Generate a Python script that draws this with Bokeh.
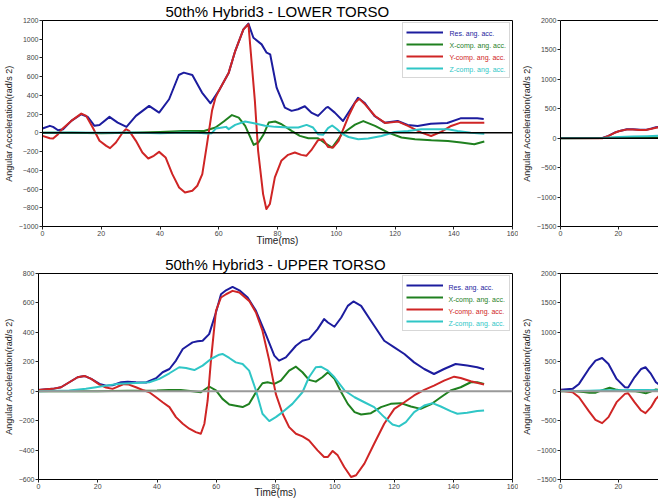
from bokeh.plotting import figure
from bokeh.models import Range1d, FixedTicker, Span, Legend, LegendItem, Label, LinearAxis
from bokeh.layouts import column, row
from bokeh.embed import file_html
from bokeh.resources import INLINE

# ---------------- data ----------------
SERIES_NAMES = ["Res. ang. acc.", "X-comp. ang. acc.", "Y-comp. ang. acc.", "Z-comp. ang. acc."]
X_TICKS = [0, 20, 40, 60, 80, 100, 120, 140, 160]
LT_Y_TICKS = [-1000, -800, -600, -400, -200, 0, 200, 400, 600, 800, 1000, 1200]
UT_Y_TICKS = [-600, -400, -200, 0, 200, 400, 600, 800]
R_Y_TICKS = [-1500, -1000, -500, 0, 500, 1000, 1500, 2000]
TITLE_LOWER = "50th% Hybrid3 - LOWER TORSO"
TITLE_UPPER = "50th% Hybrid3 - UPPER TORSO"
X_LABEL = "Time(ms)"
Y_LABEL = "Angular Acceleration(rad/s 2)"

# LOWER TORSO (left)
LT_res_t = [0, 2.5, 3.6, 5.3, 7.0, 9.8, 13.2, 15.4, 17.7, 19.4, 22.8, 25.6, 28.6, 31.8, 36.3, 39.7, 43.1, 46.4, 48.1, 51.0,
            54.3, 57.2, 60.0, 63.4, 65.6, 68.4, 70.1, 71.8, 74.6, 76.3, 77.5, 79.7, 82.5, 84.8, 87.0, 89.3, 91.5, 93.8, 96.6, 97.2,
            99.5, 102.3, 104.5, 107.4, 109.6, 113.0, 116.4, 120.9, 124.3, 127.7, 132.2, 137.8, 142.3, 148.0, 150.2]
LT_res_v = [46, 75, 64, 28, 39, 128, 199, 170, 75, 85, 171, 110, 64, 181, 288, 217, 359, 618, 643, 618,
            430, 316, 448, 643, 874, 1105, 1166, 1016, 945, 856, 839, 483, 270, 235, 252, 284, 217, 181, 270, 276,
            216, 127, 233, 375, 322, 180, 109, 127, 84, 74, 98, 105, 155, 155, 148]
LT_x_t = [0, 10, 20, 30, 40, 48, 55, 58.9, 61.7, 64.5, 66.8, 69.0, 71.9, 73.5, 75.3, 77.0, 79.2, 81.4, 84.8, 87.6,
          90.5, 93.8, 96.7, 98.6, 101.9, 104.2, 106.4, 109.2, 113.2, 117.7, 122.2, 126.8, 132.4, 138.0, 142.5, 147.0, 150.4]
LT_x_v = [0, 0, -5, 0, 10, 20, 20, 57, 121, 190, 163, 75, -128, -103, -14, 110, 121, 92, 21, -32,
          -57, -57, -121, -157, -15, 38, 88, 126, 74, 2, -50, -68, -79, -86, -104, -122, -93]
LT_y_t = [0, 2.5, 3.6, 5.3, 7.0, 9.8, 13.2, 14.9, 17.1, 19.4, 21.7, 23.0, 25.0, 27.3, 28.4, 29.5, 31.8, 34.0, 36.0, 37.9,
          39.7, 41.9, 44.2, 46.5, 48.5, 51.0, 52.7, 54.4, 56.0, 57.7, 58.9, 60.0, 63.4, 65.6, 68.4, 70.1, 72.3, 73.4, 75.1, 76.2,
          77.4, 79.1, 81.3, 83.6, 85.9, 88.1, 89.8, 91.5, 93.8, 95.5, 97.2, 98.9, 100.8, 101.9, 104.2, 106.4, 107.8, 109.8, 113.2, 116.6,
          121.1, 124.4, 129.0, 132.3, 135.7, 139.1, 142.4, 150.4]
LT_y_v = [-32, -57, -60, -14, 50, 128, 206, 181, 57, -85, -139, -163, -103, 4, 39, 21, -85, -210, -274, -245,
          -203, -263, -441, -583, -636, -618, -565, -441, -121, 235, 377, 448, 643, 874, 1105, 1160, 341, -192, -654, -814,
          -760, -476, -298, -235, -210, -235, -245, -185, -78, -68, -150, -157, -86, 2, 180, 322, 365, 305, 180, 106,
          120, 74, 2, -33, 10, 74, 109, 109]
LT_z_t = [0, 10, 20, 30, 40, 48, 53, 56, 57.5, 59.0, 61.2, 62.5, 63.4, 65.6, 69.0, 72.4, 75.8, 79.2, 83.7, 87.1,
          89.9, 92.1, 93.8, 95.5, 97.2, 98.6, 100.3, 101.9, 104.2, 107.5, 110.9, 115.4, 119.9, 124.4, 128.9, 133.4, 138.0, 141.3, 145.8, 150.4]
LT_z_v = [0, 3, 0, 3, -5, 5, 0, -8, -5, 46, 57, 64, 40, 85, 121, 100, 75, 64, 57, 57,
          85, 57, -14, -21, 50, 79, 38, -9, -44, -68, -61, -33, 9, 20, 38, 38, 38, 20, 2, -9]

# LOWER TORSO (right, partly visible)
LR_res_t = [0, 14.5, 16.6, 18.9, 20.5, 23.0, 25.0, 27.5, 29.5, 31.5, 33.0, 35.0]
LR_res_v = [5, 5, 40, 98, 124, 152, 152, 143, 142, 165, 185, 200]
LR_x_t = [0, 15, 20, 25, 30, 35]
LR_x_v = [0, 2, 8, 10, 12, 15]
LR_y_t = [0, 14.5, 16.6, 18.9, 20.5, 23.0, 25.0, 27.5, 29.5, 31.5, 33.0, 35.0]
LR_y_v = [0, 0, 39, 96, 122, 150, 150, 140, 139, 160, 178, 195]
LR_z_t = [0, 15, 20, 25, 30, 35]
LR_z_v = [0, 5, 20, 28, 35, 45]

# UPPER TORSO (left)
UT_res_t = [0, 2.6, 4.8, 7.6, 10.4, 13.2, 15.5, 17.8, 20.6, 22.8, 25.0, 27.9, 30.1, 32.9, 36.3, 39.7, 41.9, 44.2, 46.4, 48.7,
            50.3, 52.0, 53.7, 55.4, 57.6, 59.9, 61.6, 63.3, 65.5, 67.8, 70.6, 73.4, 76.7, 79.6, 81.2, 83.5, 86.9, 89.1, 91.3, 94.2,
            96.4, 97.7, 99.9, 102.2, 104.4, 106.3, 108.9, 112.2, 116.7, 120.1, 123.5, 126.8, 130.2, 133.5, 136.9, 140.8, 144.7, 148.1, 150.4]
UT_res_v = [9, 14, 16, 27, 61, 95, 104, 84, 50, 38, 41, 61, 65, 61, 59, 88, 129, 151, 208, 287,
            309, 332, 339, 343, 388, 535, 659, 686, 709, 686, 637, 546, 388, 242, 208, 230, 309, 343, 354, 422,
            490, 467, 438, 501, 580, 610, 580, 479, 343, 298, 253, 196, 151, 117, 151, 185, 174, 163, 149]
UT_x_t = [0, 10, 20, 30, 40, 44, 48, 52, 54.8, 57.6, 59.9, 62.1, 64.4, 66.6, 68.9, 71.1, 73.4, 75.6, 77.3, 79.6,
          81.8, 84.6, 86.9, 89.1, 91.3, 93.6, 95.8, 97.7, 99.9, 102.2, 104.4, 106.7, 108.9, 112.2, 115.6, 118.9, 122.3, 125.7, 129.0, 132.4,
          135.8, 139.1, 142.5, 145.9, 148.1, 150.4]
UT_x_v = [0, 0, 0, 3, 5, 9, 9, 0, -7, 32, 5, -52, -90, -99, -108, -86, -7, 54, 61, 50,
          72, 140, 167, 129, 77, 65, 95, 129, 84, -7, -86, -142, -158, -149, -108, -86, -81, -104, -120, -90,
          -41, 5, 27, 61, 61, 50]
UT_y_t = [0, 2.6, 4.8, 7.6, 10.4, 13.2, 15.5, 17.8, 20.6, 22.8, 25.0, 26.6, 28.8, 30.5, 32.9, 35.1, 37.4, 39.7, 41.9, 44.2,
          46.4, 48.7, 50.9, 53.1, 54.8, 56.0, 57.1, 58.2, 59.9, 61.6, 63.3, 65.5, 67.8, 71.1, 73.4, 75.6, 77.9, 80.1, 82.4, 84.6,
          86.9, 89.1, 91.3, 94.2, 96.4, 97.7, 99.3, 101.0, 103.2, 105.5, 107.2, 110.0, 113.3, 116.7, 120.1, 123.5, 126.8, 130.2, 133.5, 136.9,
          140.3, 142.5, 145.9, 150.4]
UT_y_v = [9, 14, 16, 27, 61, 95, 104, 84, 45, 25, 16, 30, 48, 45, 27, 9, -7, -41, -75, -108,
          -176, -221, -255, -278, -289, -221, -63, 208, 546, 637, 659, 682, 671, 614, 535, 411, 208, -18, -153, -244,
          -289, -307, -334, -402, -447, -447, -406, -436, -515, -583, -571, -492, -357, -221, -120, -75, -29, 9, 38, 72,
          99, 90, 68, 45]
UT_z_t = [0, 10.4, 16.0, 19.4, 22.8, 27.3, 32.9, 37.4, 40.8, 44.2, 47.5, 49.8, 52.6, 55.4, 58.2, 61.0, 62.1, 64.4, 66.6, 68.9,
          71.1, 73.4, 75.6, 77.9, 80.1, 82.4, 85.7, 89.1, 91.3, 93.6, 95.3, 97.7, 99.9, 103.3, 106.7, 110.0, 113.3, 116.7, 119.5, 121.7,
          124.0, 126.8, 130.2, 133.0, 135.8, 139.1, 141.4, 144.7, 148.1, 150.4]
UT_z_v = [0, 5, 16, 27, 38, 50, 56, 61, 84, 122, 163, 158, 144, 174, 219, 248, 253, 226, 196, 185,
          140, 5, -153, -203, -176, -142, -86, -7, 95, 163, 167, 140, 95, 5, -41, -75, -108, -176, -226, -239,
          -210, -142, -97, -81, -104, -135, -153, -147, -135, -131]

# UPPER TORSO (right, partly visible)
UR_res_t = [0, 4.2, 6.4, 9.8, 12.1, 14.4, 16.6, 19.4, 22.3, 23.4, 25.6, 27.9, 29.4, 31.3, 33.0, 34.5]
UR_res_v = [23, 40, 124, 378, 520, 565, 463, 209, 68, 62, 237, 378, 407, 294, 152, 100]
UR_x_t = [0, 5, 8, 10, 12, 14, 17, 19, 22, 26, 28, 29.5, 31, 33, 34.5]
UR_x_v = [0, 0, -15, -25, -25, 10, 60, 30, 5, 0, -20, -35, -10, 30, 20]
UR_y_t = [0, 4.2, 6.4, 9.8, 12.1, 14.4, 16.6, 19.4, 22.3, 23.4, 25.6, 27.9, 29.4, 31.3, 33.0, 34.5]
UR_y_v = [11, -17, -102, -339, -486, -542, -440, -186, -45, -34, -186, -328, -373, -271, -130, -60]
UR_z_t = [0, 5, 10, 15, 20, 25, 30, 34.5]
UR_z_v = [5, 5, 10, 15, 15, 20, 20, 15]

# ---------------- styling ----------------
FONT = "Liberation Sans"
COLORS = ["#1c1c9e", "#1f801f", "#cf2525", "#2fc6c6"]


def style_axis(ax, label_size, label_standoff=2, tick_standoff=1):
    ax.major_label_text_font_size = "7px"
    ax.major_label_text_font = FONT
    ax.major_label_text_color = "#444444"
    ax.major_tick_out = 3
    ax.major_tick_in = 0
    ax.major_tick_line_color = "#222222"
    ax.minor_tick_line_color = None
    ax.axis_line_color = "black"
    ax.major_label_standoff = tick_standoff
    ax.axis_label_standoff = label_standoff
    ax.axis_label_text_font = FONT
    ax.axis_label_text_font_style = "normal"
    ax.axis_label_text_font_size = label_size
    ax.axis_label_text_color = "#222222"


def make_panel(series, width, height, x_end, y_range, y_ticks, borders, title=None, xlabel=None,
               zero_color="black", zero_width=1.5, legend=False, right_cut=False, xlabel_standoff=2):
    bl, br, bt, bb = borders
    frame_w = width - bl - br
    frame_h = height - bt - bb
    p = figure(width=width, height=height, x_range=Range1d(0, x_end), y_range=Range1d(*y_range),
               output_backend="svg", toolbar_location=None,
               min_border_left=bl, min_border_right=br, min_border_top=bt, min_border_bottom=bb)
    p.grid.visible = False
    p.background_fill_color = "white"
    p.border_fill_color = "white"
    xax = p.xaxis[0]
    yax = p.yaxis[0]
    xax.ticker = FixedTicker(ticks=X_TICKS)
    yax.ticker = FixedTicker(ticks=y_ticks)
    style_axis(xax, "10px", label_standoff=xlabel_standoff, tick_standoff=1)
    style_axis(yax, "9px")
    yax.axis_label = Y_LABEL
    if xlabel:
        xax.axis_label = xlabel
    if right_cut:
        p.outline_line_color = None
        top = LinearAxis(ticker=FixedTicker(ticks=[]), axis_line_color="black",
                         major_tick_line_color=None, minor_tick_line_color=None,
                         major_label_text_alpha=0, major_label_text_font_size="1px")
        p.add_layout(top, "above")
    else:
        p.outline_line_color = "black"
        p.outline_line_width = 1
    if title:
        p.title.text = title
        p.title.align = "center"
        p.title.text_font = FONT
        p.title.text_font_size = "15px"
        p.title.text_font_style = "normal"
        p.title.text_color = "black"
        p.title.standoff = 1

    p.add_layout(Span(location=0, dimension="width", line_color=zero_color, line_width=zero_width))

    renderers = []
    for (t, v), c in zip(series, COLORS):
        r = p.line(t, v, line_color=c, line_width=2, line_join="round")
        renderers.append(r)

    if legend:
        items = [LegendItem(label=n, renderers=[r]) for n, r in zip(SERIES_NAMES, renderers)]
        lg = Legend(items=items, location="top_right", margin=2, padding=3, spacing=0,
                    glyph_width=37, glyph_height=12, label_height=12, label_width=61,
                    label_standoff=2, label_text_font_size="7px", label_text_alpha=0,
                    border_line_color="#b0b0b0", border_line_width=1,
                    background_fill_color="white", background_fill_alpha=0)
        p.add_layout(lg)
        lx = frame_w - 2 - 106 + 3 + 37 + 2
        for i, (n, c) in enumerate(zip(SERIES_NAMES, COLORS)):
            p.add_layout(Label(x=lx, y=frame_h - (2 + 3 + 6 + 12 * i) - 3, x_units="screen", y_units="screen",
                               text=n, text_color=c, text_font=FONT, text_font_size="7px",
                               text_baseline="middle", text_align="left", level="overlay"))
    return p


lt = make_panel([(LT_res_t, LT_res_v), (LT_x_t, LT_x_v), (LT_y_t, LT_y_v), (LT_z_t, LT_z_v)],
                518, 250, 160, (-1000, 1200), LT_Y_TICKS, (39, 6, 19, 24),
                title=TITLE_LOWER, xlabel=X_LABEL, legend=True, xlabel_standoff=-4)
lr = make_panel([(LR_res_t, LR_res_v), (LR_x_t, LR_x_v), (LR_y_t, LR_y_v), (LR_z_t, LR_z_v)],
                140, 250, 33.9, (-1500, 2000), R_Y_TICKS, (40, 0, 19, 24), right_cut=True)
ut = make_panel([(UT_res_t, UT_res_v), (UT_x_t, UT_x_v), (UT_y_t, UT_y_v), (UT_z_t, UT_z_v)],
                518, 250, 160, (-600, 800), UT_Y_TICKS, (36, 6, 23, 21),
                title=TITLE_UPPER, xlabel=X_LABEL, zero_color="#999999", zero_width=2, legend=True,
                xlabel_standoff=-5)
ur = make_panel([(UR_res_t, UR_res_v), (UR_x_t, UR_x_v), (UR_y_t, UR_y_v), (UR_z_t, UR_z_v)],
                140, 250, 33.9, (-1500, 2000), R_Y_TICKS, (40, 0, 23, 21),
                zero_color="#999999", zero_width=2, right_cut=True)

layout = column(row(lt, lr), row(ut, ur))
open("out.html", "w").write(file_html(layout, INLINE))
